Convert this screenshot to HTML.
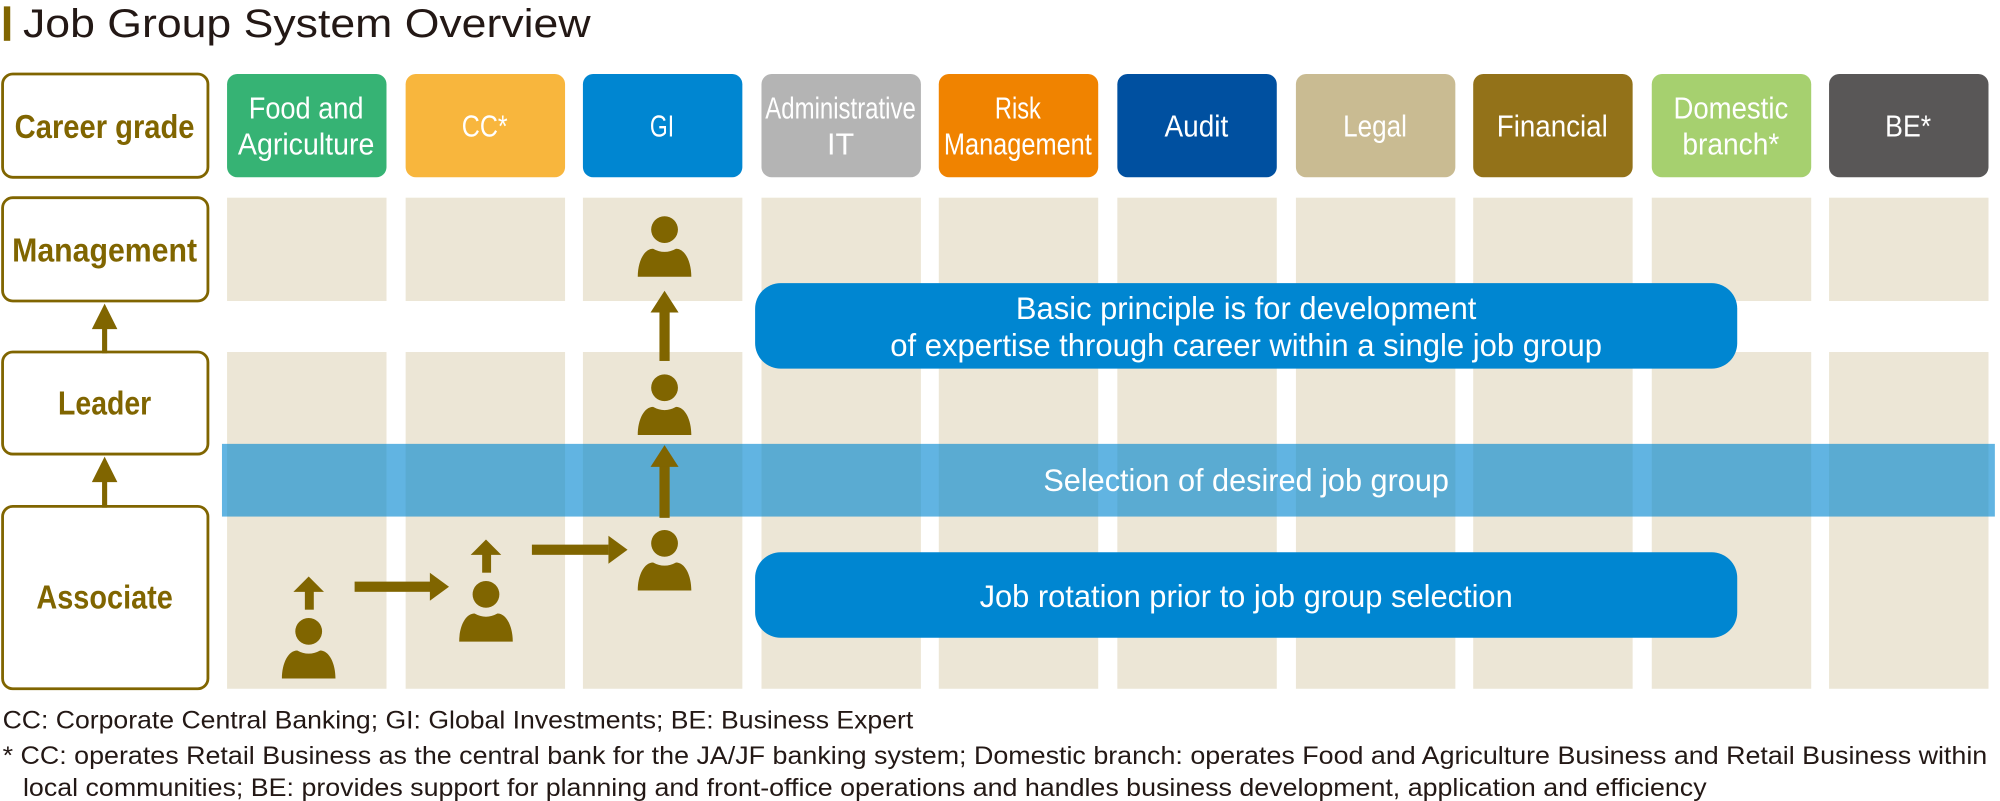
<!DOCTYPE html>
<html><head><meta charset="utf-8"><style>
html,body{margin:0;padding:0;background:#fff;width:2000px;height:801px;overflow:hidden}
svg{display:block}
text{font-family:"Liberation Sans",sans-serif}
</style></head><body>
<svg width="2000" height="801" viewBox="0 0 1568 628" xmlns="http://www.w3.org/2000/svg">
<defs>
<g id="p"><circle cx="0" cy="-37" r="10.5" fill="#806500"/><path d="M-21 0 L21 0 C21 -12 16 -22 9 -22 Q0 -17 -9 -22 C-16 -22 -21 -12 -21 0 Z" fill="#806500"/></g>
</defs>
<rect x="3" y="5" width="5" height="27" fill="#806500"/>
<text x="18" y="29" font-size="31" fill="#231815" textLength="445" lengthAdjust="spacingAndGlyphs">Job Group System Overview</text>

<g fill="#fff" stroke="#806500" stroke-width="2.2">
<rect x="2" y="58" width="161" height="81" rx="8"/>
<rect x="2" y="155" width="161" height="81" rx="8"/>
<rect x="2" y="276" width="161" height="80" rx="8"/>
<rect x="2" y="397" width="161" height="143" rx="8"/>
</g>
<g fill="#806500">
<rect x="80" y="256" width="4" height="21"/><polygon points="82,238 72,258 92,258"/>
<rect x="80" y="376" width="4" height="22"/><polygon points="82,358 72,378 92,378"/>
</g>
<g fill="#806500" font-size="26" font-weight="bold" text-anchor="middle">
<text x="82" y="108" textLength="141" lengthAdjust="spacingAndGlyphs">Career grade</text>
<text x="82" y="205" textLength="145" lengthAdjust="spacingAndGlyphs">Management</text>
<text x="82" y="325" textLength="73" lengthAdjust="spacingAndGlyphs">Leader</text>
<text x="82" y="477" textLength="107" lengthAdjust="spacingAndGlyphs">Associate</text>
</g>

<g fill="#ece6d6">
<rect x="178" y="155" width="125" height="81"/><rect x="178" y="276" width="125" height="264"/>
<rect x="318" y="155" width="125" height="81"/><rect x="318" y="276" width="125" height="264"/>
<rect x="457" y="155" width="125" height="81"/><rect x="457" y="276" width="125" height="264"/>
<rect x="597" y="155" width="125" height="81"/><rect x="597" y="276" width="125" height="264"/>
<rect x="736" y="155" width="125" height="81"/><rect x="736" y="276" width="125" height="264"/>
<rect x="876" y="155" width="125" height="81"/><rect x="876" y="276" width="125" height="264"/>
<rect x="1016" y="155" width="125" height="81"/><rect x="1016" y="276" width="125" height="264"/>
<rect x="1155" y="155" width="125" height="81"/><rect x="1155" y="276" width="125" height="264"/>
<rect x="1295" y="155" width="125" height="81"/><rect x="1295" y="276" width="125" height="264"/>
<rect x="1434" y="155" width="125" height="81"/><rect x="1434" y="276" width="125" height="264"/>
</g>

<rect x="178" y="58" width="125" height="81" rx="8" fill="#36b374"/>
<rect x="318" y="58" width="125" height="81" rx="8" fill="#f8b63d"/>
<rect x="457" y="58" width="125" height="81" rx="8" fill="#0086d1"/>
<rect x="597" y="58" width="125" height="81" rx="8" fill="#b4b4b4"/>
<rect x="736" y="58" width="125" height="81" rx="8" fill="#f08300"/>
<rect x="876" y="58" width="125" height="81" rx="8" fill="#0050a0"/>
<rect x="1016" y="58" width="125" height="81" rx="8" fill="#c9bb92"/>
<rect x="1155" y="58" width="125" height="81" rx="8" fill="#937219"/>
<rect x="1295" y="58" width="125" height="81" rx="8" fill="#a6d06f"/>
<rect x="1434" y="58" width="125" height="81" rx="8" fill="#595757"/>
<g fill="#fff" font-size="24" text-anchor="middle" lengthAdjust="spacingAndGlyphs">
<text x="240" y="93" textLength="90" lengthAdjust="spacingAndGlyphs">Food and</text><text x="240" y="121" textLength="107" lengthAdjust="spacingAndGlyphs">Agriculture</text>
<text x="380" y="107" textLength="36" lengthAdjust="spacingAndGlyphs">CC*</text>
<text x="519" y="107" textLength="19" lengthAdjust="spacingAndGlyphs">GI</text>
<text x="659" y="93" textLength="118" lengthAdjust="spacingAndGlyphs">Administrative</text><text x="659" y="121">IT</text>
<text x="798" y="93" textLength="36" lengthAdjust="spacingAndGlyphs">Risk</text><text x="798" y="121" textLength="116" lengthAdjust="spacingAndGlyphs">Management</text>
<text x="938" y="107" textLength="50" lengthAdjust="spacingAndGlyphs">Audit</text>
<text x="1078" y="107" textLength="50" lengthAdjust="spacingAndGlyphs">Legal</text>
<text x="1217" y="107" textLength="87" lengthAdjust="spacingAndGlyphs">Financial</text>
<text x="1357" y="93" textLength="90" lengthAdjust="spacingAndGlyphs">Domestic</text><text x="1357" y="121" textLength="76" lengthAdjust="spacingAndGlyphs">branch*</text>
<text x="1496" y="107" textLength="36" lengthAdjust="spacingAndGlyphs">BE*</text>
</g>

<rect x="174" y="348" width="1390" height="57" fill="#0086d1" fill-opacity="0.62"/>
<text x="977" y="385" font-size="25" fill="#fff" text-anchor="middle" textLength="318" lengthAdjust="spacingAndGlyphs">Selection of desired job group</text>

<rect x="592" y="222" width="770" height="67" rx="20" fill="#0086d1"/>
<text x="977" y="250" font-size="25" fill="#fff" text-anchor="middle" textLength="361" lengthAdjust="spacingAndGlyphs">Basic principle is for development</text>
<text x="977" y="279" font-size="25" fill="#fff" text-anchor="middle" textLength="558" lengthAdjust="spacingAndGlyphs">of expertise through career within a single job group</text>
<rect x="592" y="433" width="770" height="67" rx="20" fill="#0086d1"/>
<text x="977" y="476" font-size="25" fill="#fff" text-anchor="middle" textLength="418" lengthAdjust="spacingAndGlyphs">Job rotation prior to job group selection</text>

<use href="#p" x="242" y="532"/>
<use href="#p" x="381" y="503"/>
<use href="#p" x="521" y="463"/>
<use href="#p" x="521" y="341"/>
<use href="#p" x="521" y="217"/>
<g fill="#806500">
<rect x="239" y="463" width="7" height="15"/><polygon points="242,452 230,464 254,464"/>
<rect x="378" y="434" width="7" height="15"/><polygon points="381,423 369,435 393,435"/>
<rect x="278" y="456" width="60" height="8"/><polygon points="352,460 337,449 337,471"/>
<rect x="417" y="427" width="60" height="8"/><polygon points="492,431 477,420 477,442"/>
<rect x="517" y="364" width="8" height="42"/><polygon points="521,349 510,366 532,366"/>
<rect x="517" y="242" width="8" height="41"/><polygon points="521,228 510,245 532,245"/>
</g>

<g fill="#231815" font-size="19.5">
<text x="2" y="571" textLength="714" lengthAdjust="spacingAndGlyphs">CC: Corporate Central Banking; GI: Global Investments; BE: Business Expert</text>
<text x="2" y="599" textLength="1556" lengthAdjust="spacingAndGlyphs">* CC: operates Retail Business as the central bank for the JA/JF banking system; Domestic branch: operates Food and Agriculture Business and Retail Business within</text>
<text x="18" y="624" textLength="1320" lengthAdjust="spacingAndGlyphs">local communities; BE: provides support for planning and front-office operations and handles business development, application and efficiency</text>
</g>
</svg>
</body></html>
